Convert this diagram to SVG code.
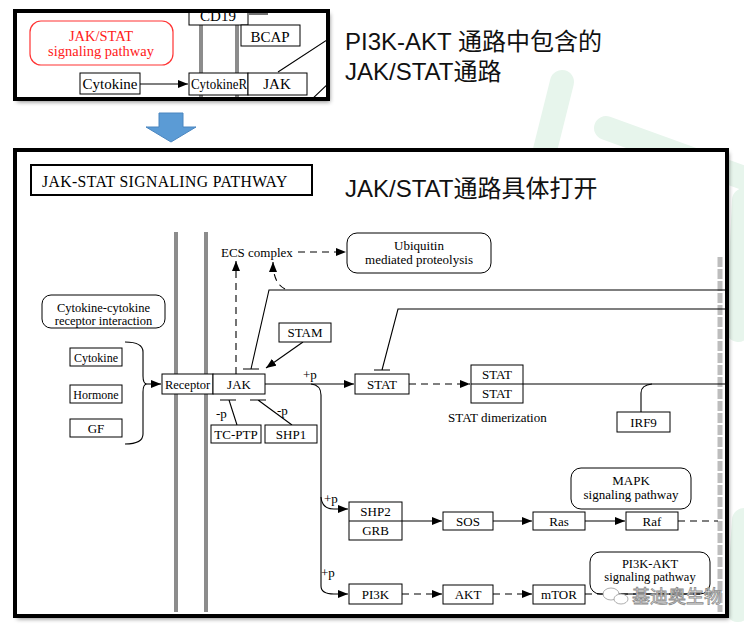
<svg xmlns="http://www.w3.org/2000/svg" width="744" height="627" viewBox="0 0 744 627">
<defs>
<style>
.t{font-family:"Liberation Serif","DejaVu Serif",serif;font-size:13px;fill:#000}
.tm{text-anchor:middle}
.bx{fill:#fff;stroke:#000;stroke-width:1}
.ln{fill:none;stroke:#000;stroke-width:1.1}
.ds{fill:none;stroke:#000;stroke-width:1.1;stroke-dasharray:7 5}
.mem{stroke:#8c8c8c;stroke-width:4}
.hd{font-family:"Liberation Sans","Noto Sans CJK SC",sans-serif;font-size:24px;fill:#111}
.bg{fill:none;stroke:#e7f5ec;stroke-width:24;stroke-linecap:round}
</style>
<marker id="ah" viewBox="0 0 10 8" refX="10" refY="4" markerWidth="10" markerHeight="8" orient="auto" markerUnits="userSpaceOnUse"><path d="M0 0L10 4L0 8z" fill="#000"/></marker>
<filter id="sh" x="-5%" y="-5%" width="110%" height="115%"><feDropShadow dx="2" dy="3" stdDeviation="2" flood-color="#000" flood-opacity="0.45"/></filter>
<clipPath id="cp1"><rect x="17" y="13" width="309" height="84"/></clipPath>
</defs>
<rect width="744" height="627" fill="#fff"/>
<g id="watermark-bg">
<path class="bg" d="M562 82L545 150"/>
<path class="bg" d="M606 128L744 178"/>
<path class="bg" d="M744 200L738 330"/>
<path class="bg" d="M744 520L738 610"/>
</g>
<g id="top-panel">
<rect x="15" y="11" width="313" height="88" fill="#fff" filter="url(#sh)"/>
<g clip-path="url(#cp1)">
<line class="mem" x1="201" y1="0" x2="201" y2="110"/>
<line class="mem" x1="237" y1="0" x2="237" y2="110"/>
<g id="cd19"><rect class="bx" x="189" y="2" width="59" height="23"/><text class="t tm" x="218" y="21" style="font-size:15px">CD19</text></g>
<path class="ln" d="M249 14H268"/>
<g id="bcap"><rect class="bx" x="241" y="25" width="59" height="21"/><text class="t tm" x="270" y="42" style="font-size:15px">BCAP</text></g>
<g id="jakstat-link"><rect x="30" y="21" width="143" height="44" rx="11" fill="#fff" stroke="#ff3333" stroke-width="1.2"/>
<text class="t tm" x="101" y="41" style="font-size:14.5px;fill:#ff2020">JAK/STAT</text>
<text class="t tm" x="101" y="56" style="font-size:14.5px;fill:#ff2020">signaling pathway</text></g>
<g id="cytokine-top"><rect class="bx" x="80" y="73" width="60" height="21"/><text class="t tm" x="110" y="89" style="font-size:15px">Cytokine</text></g>
<path class="ln" d="M140 84H188" marker-end="url(#ah)"/>
<g id="cytokiner-top"><rect class="bx" x="189" y="73" width="59" height="22"/><text class="t" x="191" y="89" style="font-size:14px" textLength="56" lengthAdjust="spacingAndGlyphs">CytokineR</text></g>
<g id="jak-top"><rect class="bx" x="248" y="73" width="59" height="22"/><text class="t tm" x="277" y="89" style="font-size:15px">JAK</text></g>
<path class="ln" d="M278 72L330 38M310 101L330 82"/>
</g>
<rect x="15" y="11" width="313" height="88" fill="none" stroke="#000" stroke-width="4"/>
</g>
<text class="hd" x="345" y="50">PI3K-AKT 通路中包含的</text>
<text class="hd" x="345" y="80">JAK/STAT通路</text>
<polygon id="down-arrow" points="159,113 183,113 183,127 196,127 171,142 146,127 159,127" fill="#5b9bd5" stroke="#4a86c0" stroke-width="1"/>
<rect x="15" y="150" width="712" height="466" fill="#fff" filter="url(#sh)"/>
<line x1="720" y1="257" x2="720" y2="612" stroke="#bdbdbd" stroke-width="5" stroke-dasharray="10 2"/>
<line class="mem" x1="176" y1="232" x2="176" y2="612"/>
<line class="mem" x1="206" y1="232" x2="206" y2="612"/>
<text class="hd" x="345" y="197">JAK/STAT通路具体打开</text>
<g id="title"><rect x="31" y="165" width="281" height="30" fill="#fff" stroke="#000" stroke-width="2"/><text class="t" x="42" y="187" style="font-size:15.7px;letter-spacing:0.4px">JAK-STAT SIGNALING PATHWAY</text></g>
<g id="connectors">
<path class="ln" d="M125 342Q143 342 143 352V376Q143 384 147 384Q143 384 143 392V434Q143 444 125 444"/>
<path class="ln" d="M147 384H161" marker-end="url(#ah)"/>
<path class="ds" d="M236 374V261" marker-end="url(#ah)"/>
<path class="ds" d="M298 252H346" marker-end="url(#ah)"/>
<path class="ds" d="M285 289Q273 283 273 262" marker-end="url(#ah)"/>
<path class="ln" d="M725 290H269L251 369M243 369H259"/>
<path class="ln" d="M725 309H398L382 370M374 370H390"/>
<path class="ln" d="M303 342L266 368" marker-end="url(#ah)"/>
<path class="ln" d="M265 384H354" marker-end="url(#ah)"/>
<path class="ln" d="M311 384Q321 385 321 395V586Q321 594 334 594H348" marker-end="url(#ah)"/>
<path class="ln" d="M321 497Q322 509 334 509H348" marker-end="url(#ah)"/>
<path class="ln" d="M237 425L229 400M220 400H236"/>
<path class="ln" d="M292 425L258 400M250 400H266"/>
<path class="ds" d="M409 384H470" marker-end="url(#ah)"/>
<path class="ln" d="M471 384H725"/>
<path class="ln" d="M641 412V393Q641 385 652 384"/>
<path class="ln" d="M349 521H442" marker-end="url(#ah)"/>
<path class="ln" d="M493 521H532" marker-end="url(#ah)"/>
<path class="ln" d="M585 521H625" marker-end="url(#ah)"/>
<path class="ds" d="M678 521H718"/>
<path class="ds" d="M402 594H442" marker-end="url(#ah)"/>
<path class="ds" d="M493 594H532" marker-end="url(#ah)"/>
<path class="ds" d="M585 594H718"/>
</g>
<g id="labels">
<text class="t" x="221" y="257">ECS complex</text>
<text class="t" x="303" y="379">+p</text>
<text class="t" x="324" y="503">+p</text>
<text class="t" x="321" y="577">+p</text>
<text class="t" x="216" y="418">-p</text>
<text class="t" x="277" y="415">-p</text>
<text class="t" x="448" y="422">STAT dimerization</text>
</g>
<g id="cci"><rect class="bx" x="42" y="295" width="123" height="33" rx="9"/><text class="t tm" x="103.5" y="312" style="font-size:12.5px">Cytokine-cytokine</text><text class="t tm" x="103.5" y="325" style="font-size:12.5px">receptor interaction</text></g>
<g id="cytokine"><rect class="bx" x="70" y="348" width="52" height="18"/><text class="t tm" x="96" y="361.5" style="font-size:12px">Cytokine</text></g>
<g id="hormone"><rect class="bx" x="70" y="385" width="52" height="18"/><text class="t tm" x="96" y="398.5" style="font-size:12px">Hormone</text></g>
<g id="gf"><rect class="bx" x="70" y="419" width="52" height="18"/><text class="t tm" x="96" y="432.5">GF</text></g>
<g id="receptor"><rect class="bx" x="162" y="374" width="51" height="20"/><text class="t tm" x="187.5" y="388.5" style="font-size:12.5px">Receptor</text></g>
<g id="jak"><rect class="bx" x="213" y="374" width="52" height="20"/><text class="t tm" x="239" y="388.5">JAK</text></g>
<g id="stam"><rect class="bx" x="279" y="323" width="52" height="19"/><text class="t tm" x="305" y="337">STAM</text></g>
<g id="tcptp"><rect class="bx" x="211" y="425" width="50" height="18"/><text class="t tm" x="236" y="438.5">TC-PTP</text></g>
<g id="shp1"><rect class="bx" x="265" y="425" width="52" height="18"/><text class="t tm" x="291" y="438.5">SHP1</text></g>
<g id="ubiquitin"><rect class="bx" x="347" y="233" width="144" height="40" rx="10"/><text class="t tm" x="419" y="250">Ubiquitin</text><text class="t tm" x="419" y="264">mediated proteolysis</text></g>
<g id="stat"><rect class="bx" x="355" y="374" width="54" height="20"/><text class="t tm" x="382" y="388.5">STAT</text></g>
<g id="stat-dimer"><rect class="bx" x="471" y="365" width="52" height="38"/><line x1="471" y1="384" x2="523" y2="384" stroke="#000"/><text class="t tm" x="497" y="379">STAT</text><text class="t tm" x="497" y="398">STAT</text></g>
<g id="irf9"><rect class="bx" x="617" y="412" width="53" height="20"/><text class="t tm" x="643.5" y="426.5">IRF9</text></g>
<g id="mapk"><rect class="bx" x="571" y="468" width="120" height="41" rx="10"/><text class="t tm" x="631" y="485">MAPK</text><text class="t tm" x="631" y="499">signaling pathway</text></g>
<g id="shp2-grb"><rect class="bx" x="349" y="502" width="53" height="38"/><line x1="349" y1="521" x2="402" y2="521" stroke="#000"/><text class="t tm" x="375.5" y="516">SHP2</text><text class="t tm" x="375.5" y="535">GRB</text></g>
<g id="sos"><rect class="bx" x="443" y="512" width="50" height="18"/><text class="t tm" x="468" y="525.5">SOS</text></g>
<g id="ras"><rect class="bx" x="533" y="512" width="52" height="18"/><text class="t tm" x="559" y="525.5">Ras</text></g>
<g id="raf"><rect class="bx" x="626" y="512" width="52" height="18"/><text class="t tm" x="652" y="525.5">Raf</text></g>
<g id="pi3k"><rect class="bx" x="349" y="584" width="53" height="20"/><text class="t tm" x="375.5" y="598.5">PI3K</text></g>
<g id="akt"><rect class="bx" x="443" y="585" width="50" height="19"/><text class="t tm" x="468" y="599">AKT</text></g>
<g id="mtor"><rect class="bx" x="533" y="585" width="52" height="19"/><text class="t tm" x="559" y="599">mTOR</text></g>
<g id="pi3k-akt"><rect x="590" y="552" width="120" height="42" rx="10" fill="none" stroke="#000"/><text class="t tm" x="650" y="568" style="font-size:12.5px">PI3K-AKT</text><text class="t tm" x="650" y="581" style="font-size:12.5px">signaling pathway</text></g>
<g id="wm">
<ellipse cx="611" cy="594" rx="8" ry="6" fill="#fff" stroke="#999" stroke-width="0.8"/>
<ellipse cx="621" cy="599" rx="7" ry="5" fill="#fff" stroke="#999" stroke-width="0.8"/>
<text x="632" y="603" style="font-family:'Noto Sans CJK SC',sans-serif;font-size:18px;fill:#fff;stroke:#8a8a8a;stroke-width:0.8">基迪奥生物</text>
</g>
<rect x="15" y="150" width="712" height="466" fill="none" stroke="#000" stroke-width="4"/>
</svg>
